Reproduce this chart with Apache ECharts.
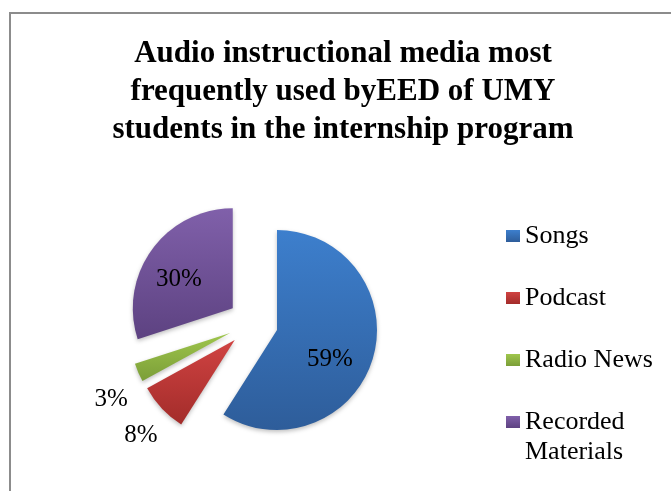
<!DOCTYPE html>
<html>
<head>
<meta charset="utf-8">
<script src="https://cdn.jsdelivr.net/npm/echarts@6/dist/echarts.min.js"></script>
<style>
html,body{margin:0;padding:0;background:#fff;}
#chart{width:671px;height:491px;}
</style>
</head>
<body>
<div id="chart"></div>
<script>
var categories = ['Songs', 'Podcast', 'Radio News', 'Recorded Materials'];
var values = [59, 8, 3, 30];
var legendLabels = ['Songs', 'Podcast', 'Radio News', 'Recorded\nMaterials'];
var titleText = 'Audio instructional media most\nfrequently used byEED of UMY\nstudents in the internship program';

var gradients = [
  ['#3d7fcd', '#2e5d9a'],
  ['#d04342', '#a32c2a'],
  ['#9fc64c', '#7b9e38'],
  ['#8060aa', '#5d4281']
];
var labelPos = ['inside', 'outside', 'outside', 'inside'];
var labelShift = [[2, 15], [5, 23], [0, 24], [-11, 2]];

var chart = echarts.init(document.getElementById('chart'), null, {renderer: 'canvas'});

// pad each legend label to three lines so the first text line sits beside its icon
function padLegend(s) {
  var lines = s.split('\n');
  while (lines.length < 2) { lines.push('\u00a0'); }
  return '\u00a0\n' + lines.join('\n');
}

var data = categories.map(function (c, i) {
  return {
    name: c,
    value: values[i],
    selected: true,
    itemStyle: {
      color: new echarts.graphic.LinearGradient(0, 0, 0, 1, [
        {offset: 0, color: gradients[i][0]},
        {offset: 1, color: gradients[i][1]}
      ])
    },
    label: {position: labelPos[i]},
    labelLine: {show: false}
  };
});

var option = {
  backgroundColor: '#ffffff',
  animation: false,
  graphic: [{
    type: 'rect',
    silent: true,
    shape: {x: 10, y: 13, width: 700, height: 520},
    style: {fill: 'none', stroke: '#8c8c8c', lineWidth: 2}
  }],
  title: {
    text: titleText,
    left: 338,
    top: 30,
    textAlign: 'center',
    textStyle: {
      fontFamily: 'Liberation Serif',
      fontWeight: 'bold',
      fontSize: 31,
      lineHeight: 38,
      color: '#000'
    }
  },
  legend: {
    orient: 'vertical',
    left: 501,
    top: 186,
    height: 600,
    icon: 'rect',
    itemWidth: 14,
    itemHeight: 12,
    itemGap: -28,
    selectedMode: false,
    formatter: function (name) {
      return padLegend(legendLabels[categories.indexOf(name)]);
    },
    textStyle: {
      fontFamily: 'Liberation Serif',
      fontSize: 26,
      lineHeight: 30,
      color: '#000'
    },
    data: categories
  },
  series: [{
    type: 'pie',
    center: [253, 323],
    radius: 100,
    startAngle: 90,
    clockwise: true,
    selectedMode: 'multiple',
    selectedOffset: 25,
    avoidLabelOverlap: false,
    emphasis: {disabled: true},
    itemStyle: {
      shadowBlur: 4,
      shadowColor: 'rgba(0,0,0,0.25)',
      shadowOffsetY: 2
    },
    label: {
      show: true,
      formatter: function (p) { return p.value + '%'; },
      fontFamily: 'Liberation Serif',
      fontSize: 25,
      color: '#000'
    },
    labelLine: {show: false, length: 6, length2: 0},
    labelLayout: function (params) {
      var s = labelShift[params.dataIndex];
      return {dx: s[0], dy: s[1]};
    },
    data: data
  }]
};
chart.setOption(option);
</script>
</body>
</html>
